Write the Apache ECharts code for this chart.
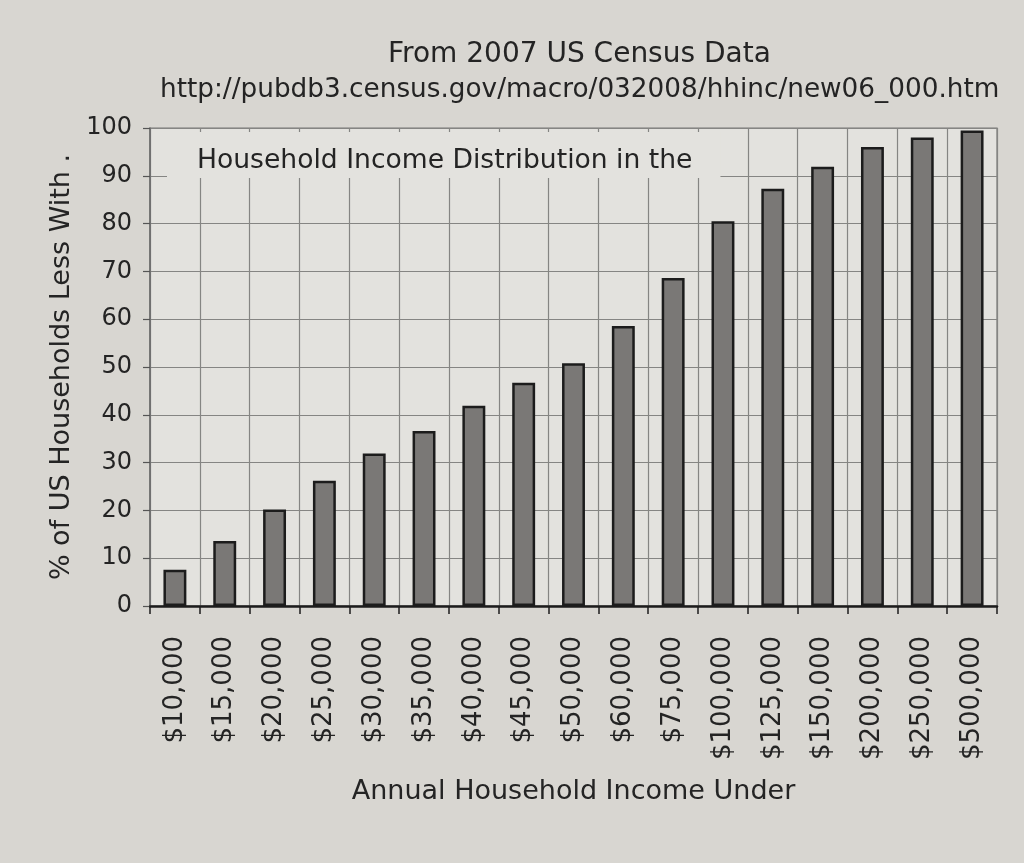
<!DOCTYPE html>
<html>
<head>
<meta charset="utf-8">
<script src="https://cdn.jsdelivr.net/npm/echarts@6/dist/echarts.min.js"></script>
<style>
html,body{margin:0;padding:0;background:#d8d6d1;}
#c{width:1024px;height:863px;}
</style>
</head>
<body>
<div id="c"></div>
<script>
var categories = ['$10,000','$15,000','$20,000','$25,000','$30,000','$35,000','$40,000','$45,000','$50,000','$60,000','$75,000','$100,000','$125,000','$150,000','$200,000','$250,000','$500,000'];
var percentLess = [7.6, 13.6, 20.2, 26.2, 31.9, 36.6, 41.9, 46.7, 50.8, 58.6, 68.6, 80.5, 87.3, 91.9, 96.0, 98.0, 99.5];
var yTicks = [0, 10, 20, 30, 40, 50, 60, 70, 80, 90, 100];

var FONT = 'DejaVu Sans';
var TXT = '#242424';
var chart = echarts.init(document.getElementById('c'));
chart.setOption({
  backgroundColor: '#d8d6d1',
  animation: false,
  title: [
    {text: 'From 2007 US Census Data', left: 383, top: 36,
     textStyle: {fontFamily: FONT, fontSize: 28, fontWeight: 'normal', color: TXT}},
    {text: 'http://pubdb3.census.gov/macro/032008/hhinc/new06_000.htm', left: 155, top: 72,
     textStyle: {fontFamily: FONT, fontSize: 26.3, fontWeight: 'normal', color: TXT}},
    {text: 'Household Income Distribution in the', left: 167, top: 132,
     padding: [14, 28, 2, 30], backgroundColor: '#e3e2de',
     textStyle: {fontFamily: FONT, fontSize: 26.6, lineHeight: 30, fontWeight: 'normal', color: TXT}}
  ],
  grid: {left: 150, right: 27, top: 128, bottom: 257, show: true,
         backgroundColor: '#e3e2de', borderColor: '#777', borderWidth: 1.2},
  xAxis: {
    type: 'category', data: categories,
    name: 'Annual Household Income Under', nameLocation: 'middle', nameGap: 172,
    nameTextStyle: {fontFamily: FONT, fontSize: 27, color: TXT},
    axisLine: {lineStyle: {color: '#1c1c1c', width: 2.5}},
    axisTick: {show: true, length: 8, lineStyle: {color: '#1c1c1c', width: 1.5}},
    axisLabel: {rotate: 90, margin: 30, fontFamily: FONT, fontSize: 26, color: TXT, interval: 0},
    splitLine: {show: true, lineStyle: {color: '#858583', width: 1.2}}
  },
  yAxis: {
    type: 'value', min: yTicks[0], max: yTicks[yTicks.length - 1], interval: 10,
    name: '% of US Households Less With .', nameLocation: 'middle', nameGap: 72,
    nameTextStyle: {fontFamily: FONT, fontSize: 27, color: TXT},
    axisLine: {show: true, lineStyle: {color: '#6a6a6a', width: 1.5}},
    axisTick: {show: true, length: 7, lineStyle: {color: '#555', width: 1.2}},
    axisLabel: {margin: 18, fontFamily: FONT, fontSize: 24, color: TXT},
    splitLine: {show: true, lineStyle: {color: '#858583', width: 1.2}}
  },
  series: [{
    type: 'bar', data: percentLess, barWidth: '46%',
    itemStyle: {color: '#7a7876', borderColor: '#1c1c1c', borderWidth: 2.5}
  }]
});
</script>
</body>
</html>
